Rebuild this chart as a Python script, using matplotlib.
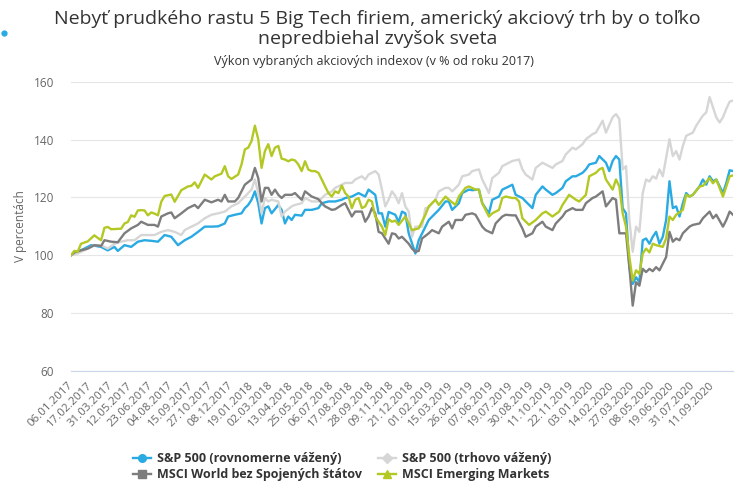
import matplotlib
matplotlib.use("Agg")
import matplotlib.pyplot as plt
import numpy as np
import pandas as pd
from matplotlib.lines import Line2D

BLUE = "#2aaae2"; LGRAY = "#d6d6d6"; GRAY = "#7d7d7d"; GREEN = "#b4c824"
TXT = "#333333"; AXT = "#666666"

plt.rcParams["font.family"] = ["Open Sans", "DejaVu Sans"]

# readings as (weeks since 06.01.2017, value in %)
sp_equal = [(0,100),(2,101.2),(4,102.3),(6,103.5),(9,102.9),(11,101.7),(13,102.9),(14,101.5),(16,103.5),
    (18,102.9),(20,104.7),(22,105.2),(24,105),(26,104.7),(28,107),(30,106.4),(32,103.5),(34,105.2),(36,106.4),
    (38,108.1),(40,109.9),(42,109.9),(44,110),(46,111),(47,113.4),(49,114),(51,114.5),(52,116.3),(53,117.4),
    (54,119.2),(55,122.1),(56,118),(57,111),(58,116.3),(59,116.9),(60,114.5),(62,117.4),(63,115.7),(64,111),
    (65,113.4),(66,112.2),(67,114),(69,113.7),(70,115.7),(72,115.7),(74,116.3),(75,118),(77,118.6),(79,118.6),
    (81,119.2),(82,119.8),(84,120.3),(86,121.5),(88,120.3),(89,122.7),(91,120.9),(92,114.5),(93,114.5),
    (94,109.9),(95,115),(96,114.5),(97,114),(98,111.5),(99,115.1),(100,114.5),(101,107.6),(103,100.6),
    (104,105.2),(106,109.9),(107,112.2),(109,114.5),(110,115.7),(112,118.6),(113,118.6),(114,115.7),(116,118),
    (117,121.5),(119,122.7),(120,122.5),(122,122.7),(123,118),(125,114.5),(126,119.2),(128,120.3),(129,122.7),
    (131,123.8),(132,124.4),(133,120.9),(135,119.8),(136,118.6),(138,116.3),(139,120.9),(141,123.8),(142,122.7),
    (144,120.9),(145,121.5),(147,123.3),(148,125.6),(150,127.3),(151,127.3),(153,128.5),(154,129.7),(155,131.4),
    (157,132),(158,134.3),(160,132),(161,129.1),(162,132.6),(163,134.3),(164,133.1),(165,116.3),(166,114.5),
    (167,95.9),(168,90.1),(169,92.4),(170,90.7),(171,105.2),(172,105.8),(173,104),(174,106.4),(175,108.1),
    (176,104),(177,106.4),(178,112.2),(179,125.6),(180,116.3),(181,116.9),(182,113.4),(183,118),(184,121.5),
    (185,120.3),(186,120.9),(188,123.8),(189,126.2),(190,124.4),(191,127.3),(192,125.6),(193,126.2),(195,121.5),
    (196,125),(197,129.4),(198,129.1)]

sp_market = [(0,100),(2,100.6),(5,102.3),(7,103.5),(9,103.5),(11,102.3),(13,104),(15,104.7),(17,105.2),
    (19,105.2),(21,107),(23,107),(25,107),(27,108.1),(29,108.7),(31,108.1),(33,107),(34,108.7),(36,109.9),
    (38,111),(40,112.8),(42,114),(44,114.5),(46,115.1),(48,116.9),(50,118),(52,120.3),(54,122.7),(55,126.2),
    (56,121.5),(57,114.5),(58,119.8),(59,118.6),(60,119.2),(62,118.6),(63,113.4),(64,115.1),(66,116.9),
    (67,117.4),(69,118),(70,119.8),(72,118.6),(74,118.6),(76,120.9),(78,122.1),(79,123.3),(81,124.4),(82,125),
    (84,125),(85,126.2),(87,127.3),(88,126.2),(89,127.9),(91,129.1),(92,127.9),(93,122.7),(94,116.9),(95,119.2),
    (96,122.1),(97,120.5),(98,118),(99,121.5),(100,116.9),(101,115.1),(102,106.4),(103,109.9),(105,109.9),
    (106,116.3),(107,116.5),(109,119.2),(110,122.1),(112,123.3),(113,123.3),(114,122.1),(116,124.4),(117,127.3),
    (119,127.9),(120,129.1),(122,129.7),(123,126.2),(125,121.5),(126,126.7),(128,128.5),(129,130.8),(131,132),
    (132,132.6),(134,133.1),(135,129.7),(136,127.9),(138,126.2),(139,130.2),(141,132),(142,131.4),(144,130.2),
    (145,131.4),(147,132.6),(148,134.9),(150,137.2),(151,136.6),(153,138.4),(154,140.1),(156,141.9),(157,142.4),
    (159,146.5),(160,142.4),(162,147.7),(163,148.8),(164,147.1),(165,129.7),(166,130.8),(167,112.2),(168,101.2),
    (169,109.9),(170,108.1),(171,121.5),(172,126.2),(173,125.5),(174,127.3),(175,126.5),(176,129.7),(177,127.3),
    (178,133.7),(179,140.1),(180,134.3),(181,136),(182,133.1),(183,137.8),(184,141.3),(186,142.4),(187,144.8),
    (189,148.3),(190,149.4),(191,154.7),(192,151.2),(193,147.7),(194,145.9),(195,147.7),(196,150.6),(197,153.1),
    (198,153.5)]

msci_world = [(0,100),(1,101),(3,101.7),(5,102.3),(7,103.5),(9,103.2),(10,105.2),(12,104.7),(14,104.5),
    (16,107.6),(18,109.3),(20,110.5),(21,111.6),(23,110.5),(25,110.5),(26,109.9),(27,113.4),(29,114.5),
    (30,114.8),(31,112.8),(33,114.5),(35,116.3),(37,117.4),(38,116.3),(40,119.2),(42,118.3),(44,119.2),
    (45,118.6),(46,120.9),(47,118.6),(49,118.6),(50,119.8),(51,122.1),(52,124.4),(54,126.2),(55,130.2),
    (56,126.7),(57,118.6),(58,123.3),(59,123.3),(60,120.9),(61,122.7),(62,120.9),(63,119.8),(64,120.9),
    (66,120.9),(67,121.5),(68,120.3),(69,119.2),(70,122.1),(72,120.3),(74,119.4),(75,118),(76,116.9),(78,115.7),
    (79,115.9),(81,117.4),(82,118),(83,115.7),(84,113.4),(85,115.1),(87,115.1),(88,111.6),(89,113.4),(90,116.3),
    (91,114.5),(92,108.1),(93,107.6),(95,104),(96,107.6),(97,107.3),(98,105.8),(99,106.4),(101,104),(102,102.3),
    (103,101.2),(104,101.5),(105,105.8),(107,107.6),(108,108.7),(110,107.6),(111,109.9),(113,111.6),(114,109.3),
    (115,112.2),(117,112.2),(118,114),(120,114.5),(121,114),(123,109.9),(124,108.7),(126,107.6),(127,111),
    (129,113.4),(130,114),(132,113.8),(133,113.8),(135,109.3),(136,106.4),(138,107.6),(139,109.9),(141,111.6),
    (142,109.9),(144,108.7),(145,111),(147,113.4),(148,115.1),(150,116.3),(151,115.7),(153,115.7),(154,118),
    (156,119.8),(157,120.3),(159,122.1),(160,116.9),(162,119.8),(163,119.2),(164,107.6),(166,107.6),(167,95.9),
    (168,82.6),(169,90.7),(170,89.5),(171,95.3),(172,94.2),(173,95.3),(174,94.5),(175,95.9),(176,94.8),
    (178,99.4),(179,108.1),(180,104.7),(181,105.8),(182,105.2),(183,107.6),(185,109.9),(186,110.5),(188,111),
    (189,112.8),(191,115.1),(192,112.8),(193,114),(195,109.9),(196,112.2),(197,115.1),(198,114)]

msci_em = [(0,100),(1,101.5),(2,101.2),(3,104),(5,104.8),(7,106.9),(8,106),(9,105.2),(10,109.5),(11,109.8),
    (12,109),(15,109.2),(16,111),(17,111.5),(18,113.8),(19,113.3),(20,115.5),(21,115.6),(22,115.5),(23,113.8),
    (24,114.8),(25,114.4),(26,113.8),(27,118.5),(28,120.5),(30,121),(31,118.5),(33,122.5),(35,123.8),(36,124),
    (37,125.2),(38,123.3),(40,127.9),(42,126.2),(43,127.3),(45,128.2),(46,130.8),(47,127.3),(48,126.4),
    (50,127.9),(51,131.4),(52,136.6),(53,137.2),(54,139.5),(55,144.8),(56,140.1),(57,130.2),(58,136),(59,138.4),
    (60,134.3),(61,137.2),(62,137.8),(63,133.4),(64,133.1),(65,132.5),(66,133.1),(67,132.8),(68,131.4),
    (69,129.1),(70,132.5),(71,129.6),(72,129.1),(73,129.1),(74,128.5),(75,126.2),(76,123.8),(77,121.5),
    (78,120.3),(79,122.1),(80,121.5),(81,124.1),(82,121.5),(83,120.3),(84,116.3),(85,119.2),(86,119.8),
    (87,116.3),(88,116.9),(89,119.2),(90,118.6),(91,113.4),(92,111.6),(93,109.9),(94,107),(95,112.5),(96,111.6),
    (97,112),(98,110.5),(100,113.4),(102,108.7),(104,109.3),(106,114),(107,116.9),(109,119.2),(110,117.4),
    (112,120.3),(113,119.2),(115,117.4),(116,120.3),(118,123.3),(119,123.8),(121,122.7),(122,122.7),(123,118),
    (125,113.4),(126,114.5),(128,115.7),(129,119.8),(130,120.3),(132,119.8),(133,119.8),(134,118.6),(135,112.8),
    (137,110.5),(139,112.2),(141,114.5),(142,115.1),(144,113.4),(146,115.1),(147,117.4),(149,120.9),(151,119.2),
    (152,118.6),(154,120.9),(155,127.3),(157,128.5),(158,129.7),(159,130.2),(160,126.2),(162,122.7),(163,126.2),
    (164,123.8),(165,114.5),(166,109.9),(167,99.4),(168,91.3),(169,94.8),(170,93.6),(171,100.6),(172,102.3),
    (173,101),(174,104),(175,103.5),(177,102.9),(178,105.8),(179,113.4),(180,112.2),(181,114),(183,115.7),
    (184,120.9),(185,120.3),(186,120.9),(188,123.8),(189,124),(191,126.7),(192,124.9),(193,126.2),(195,120.3),
    (196,123.8),(197,127.3),(198,127.6)]

start = pd.Timestamp("2017-01-06")
tick_weeks = list(range(0, 193, 6))
tick_labels = [(start + pd.Timedelta(days=7 * w)).strftime("%d.%m.%Y") for w in tick_weeks]

names = ["S&P 500 (rovnomerne vážený)", "S&P 500 (trhovo vážený)",
         "MSCI World bez Spojených štátov", "MSCI Emerging Markets"]
series = [sp_equal, sp_market, msci_world, msci_em]
colors = [BLUE, LGRAY, GRAY, GREEN]
markers = ["o", "D", "s", "^"]

fig = plt.figure(figsize=(7.44, 5.0), dpi=100)
ax = fig.add_axes([71/744, 1-371/500, 662/744, 289.3/500])

for data, c in zip(series, colors):
    w, v = zip(*data)
    ax.plot(w, v, color=c, lw=1.7, solid_joinstyle="round")

ax.set_xlim(0, 198)
ax.set_ylim(60, 160)
ax.set_yticks(range(60, 161, 20))
ax.set_xticks(tick_weeks)
ax.set_xticklabels(tick_labels, rotation=45, ha="right", va="center", rotation_mode="anchor",
                   fontsize=8.2, color=AXT)
ax.tick_params(axis="x", length=0, pad=9)
ax.tick_params(axis="y", length=0, pad=12, labelsize=8.5, labelcolor=AXT)
ax.grid(axis="y", color="#e6e6e6", lw=0.8)
ax.set_axisbelow(True)
for s in ["top", "right", "left"]:
    ax.spines[s].set_visible(False)
ax.spines["bottom"].set_color("#ccd6eb")
ax.spines["bottom"].set_linewidth(0.8)
ax.set_ylabel("V percentách", fontsize=8.5, color=AXT, labelpad=5)

fig.text(0.507, 1-29/500, "Nebyť prudkého rastu 5 Big Tech firiem, americký akciový trh by o toľko\nnepredbiehal zvyšok sveta",
         ha="center", va="center", fontsize=14, color=TXT, linespacing=1.15)
fig.text(0.502, 1-61/500, "Výkon vybraných akciových indexov (v % od roku 2017)",
         ha="center", va="center", fontsize=9, color=TXT)
fig.add_artist(Line2D([4/744], [1-33/500], marker="o", ms=3.5, color=BLUE, lw=0))

order = [0, 2, 1, 3]
handles = [Line2D([0], [0], color=colors[i], lw=1.7, marker=markers[i], ms=5.5) for i in order]
leg = fig.legend(handles, [names[i] for i in order], loc="upper left", bbox_to_anchor=(133/744, 1-452/500),
                 ncol=2, frameon=False, fontsize=9, handlelength=1.4, handletextpad=0.5,
                 columnspacing=1.3, labelspacing=0.25, borderaxespad=0, borderpad=0)
for t in leg.get_texts():
    t.set_fontweight("bold"); t.set_color(TXT)

fig.savefig("out.png", dpi=100, facecolor="white")
